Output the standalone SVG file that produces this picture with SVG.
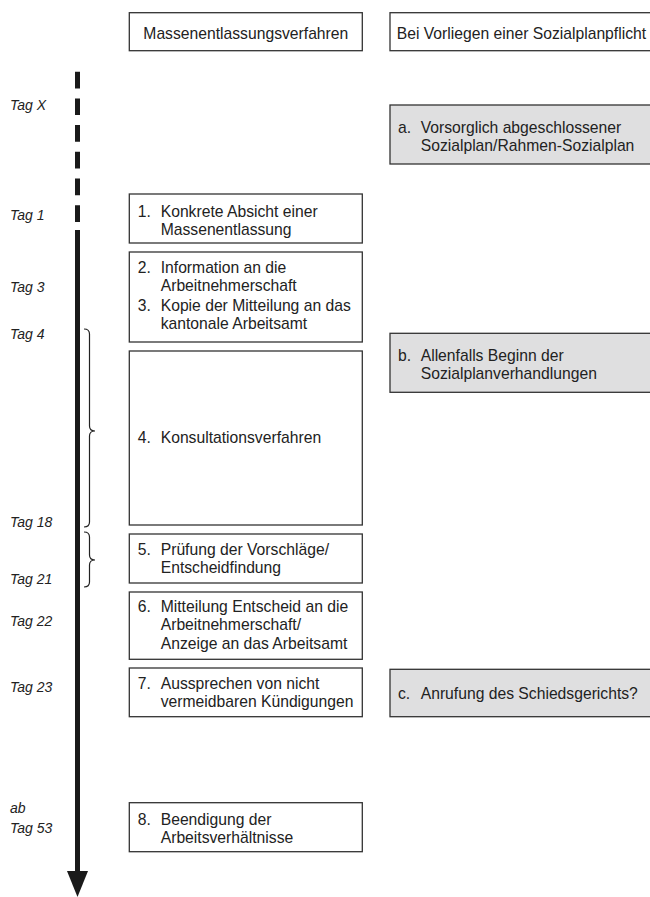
<svg xmlns="http://www.w3.org/2000/svg" width="650" height="897" viewBox="0 0 650 897">
<style>
.box{fill:#fff;stroke:#333;stroke-width:1.3}
.gbox{fill:#dfdfe0;stroke:#333;stroke-width:1.3}
.t{font-family:"Liberation Sans",Arial,sans-serif;font-size:15.7px;fill:#222}
.tag{font-family:"Liberation Sans",Arial,sans-serif;font-size:14px;font-style:italic;fill:#222}
.brace{fill:none;stroke:#222;stroke-width:1.2}
</style>
<rect width="650" height="897" fill="#fff"/>
<g id="connectors">
<line x1="77.5" y1="71.7" x2="77.5" y2="222" stroke="#1a1a1a" stroke-width="5" stroke-dasharray="16.7 10"/>
<line x1="77.5" y1="230" x2="77.5" y2="873" stroke="#1a1a1a" stroke-width="5"/>
<polygon points="67,871 88,871 77.5,897" fill="#1a1a1a"/>
<path class="brace" d="M84,329 Q89.5,329 89.5,334 L89.5,426 Q89.5,431 95,431 Q89.5,431 89.5,436 L89.5,522 Q89.5,527 84,527"/>
<path class="brace" d="M84,532 Q89.5,532 89.5,537 L89.5,555 Q89.5,560 95,560 Q89.5,560 89.5,565 L89.5,582 Q89.5,587 84,587"/>
</g>
<g id="tags">
<text class="tag" x="10" y="110">Tag X</text>
<text class="tag" x="10" y="220">Tag 1</text>
<text class="tag" x="10" y="292">Tag 3</text>
<text class="tag" x="10" y="339">Tag 4</text>
<text class="tag" x="10" y="527">Tag 18</text>
<text class="tag" x="10" y="584">Tag 21</text>
<text class="tag" x="10" y="626">Tag 22</text>
<text class="tag" x="10" y="692">Tag 23</text>
<text class="tag" x="10" y="813">ab</text>
<text class="tag" x="10" y="833">Tag 53</text>
</g>
<g id="header1">
<rect class="box" x="129.3" y="12.7" width="233" height="38"/>
<text class="t" x="245.8" y="39" text-anchor="middle">Massenentlassungsverfahren</text>
</g>
<g id="header2">
<rect class="box" x="390" y="12.7" width="270" height="38"/>
<text class="t" x="396.7" y="39">Bei Vorliegen einer Sozialplanpflicht</text>
</g>
<g id="nodeA">
<rect class="gbox" x="390" y="105" width="270" height="59"/>
<text class="t" x="398" y="133.3">a.</text>
<text class="t" x="420.7" y="133.3">Vorsorglich abgeschlossener</text>
<text class="t" x="420.7" y="151.3">Sozialplan/Rahmen-Sozialplan</text>
</g>
<g id="nodeB">
<rect class="gbox" x="390" y="333.3" width="270" height="59"/>
<text class="t" x="398" y="361">b.</text>
<text class="t" x="420.7" y="361">Allenfalls Beginn der</text>
<text class="t" x="420.7" y="379.3">Sozialplanverhandlungen</text>
</g>
<g id="nodeC">
<rect class="gbox" x="390" y="669.3" width="270" height="47.4"/>
<text class="t" x="398" y="699.3">c.</text>
<text class="t" x="420.7" y="699.3">Anrufung des Schiedsgerichts?</text>
</g>
<g id="node1">
<rect class="box" x="129.3" y="194" width="233" height="49"/>
<text class="t" x="137.7" y="216.7">1.</text>
<text class="t" x="160.7" y="216.7">Konkrete Absicht einer</text>
<text class="t" x="160.7" y="234.5">Massenentlassung</text>
</g>
<g id="node2">
<rect class="box" x="129.3" y="252" width="233" height="90"/>
<text class="t" x="137.7" y="272.7">2.</text>
<text class="t" x="160.7" y="272.7">Information an die</text>
<text class="t" x="160.7" y="291">Arbeitnehmerschaft</text>
<text class="t" x="137.7" y="311">3.</text>
<text class="t" x="160.7" y="311">Kopie der Mitteilung an das</text>
<text class="t" x="160.7" y="329.3">kantonale Arbeitsamt</text>
</g>
<g id="node4">
<rect class="box" x="129.3" y="351" width="233" height="174"/>
<text class="t" x="137.7" y="443">4.</text>
<text class="t" x="160.7" y="443">Konsultationsverfahren</text>
</g>
<g id="node5">
<rect class="box" x="129.3" y="534" width="233" height="49"/>
<text class="t" x="137.7" y="555">5.</text>
<text class="t" x="160.7" y="555">Prüfung der Vorschläge/</text>
<text class="t" x="160.7" y="573.3">Entscheidfindung</text>
</g>
<g id="node6">
<rect class="box" x="129.3" y="592" width="233" height="67.3"/>
<text class="t" x="137.7" y="611.7">6.</text>
<text class="t" x="160.7" y="611.7">Mitteilung Entscheid an die</text>
<text class="t" x="160.7" y="630">Arbeitnehmerschaft/</text>
<text class="t" x="160.7" y="649.3">Anzeige an das Arbeitsamt</text>
</g>
<g id="node7">
<rect class="box" x="129.3" y="668" width="233" height="48.7"/>
<text class="t" x="137.7" y="688.5">7.</text>
<text class="t" x="160.7" y="688.5">Aussprechen von nicht</text>
<text class="t" x="160.7" y="706.7">vermeidbaren Kündigungen</text>
</g>
<g id="node8">
<rect class="box" x="129.3" y="802.7" width="233" height="49"/>
<text class="t" x="137.7" y="825">8.</text>
<text class="t" x="160.7" y="825">Beendigung der</text>
<text class="t" x="160.7" y="843.3">Arbeitsverhältnisse</text>
</g>
</svg>
